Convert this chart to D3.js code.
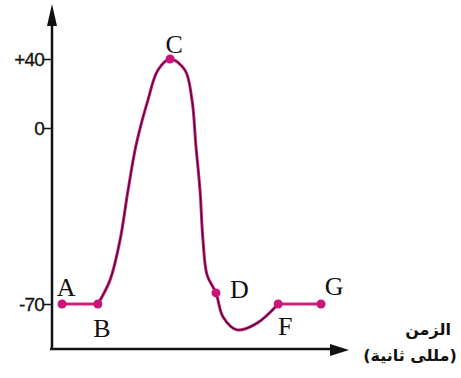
<!DOCTYPE html>
<html><head><meta charset="utf-8">
<script src="https://cdn.jsdelivr.net/npm/d3@7"></script>
<style>html,body{margin:0;padding:0;background:#fff;}svg{display:block;}</style>
</head><body>
<script>
// time (ms) and membrane potential (mV)
const time    = [0.34, 1.55, 1.96, 2.30, 2.57, 2.84, 3.24, 3.58, 3.99, 4.49, 4.73, 4.86, 5.00, 5.10, 5.24, 5.54, 5.78, 6.25, 6.93, 7.64, 9.09];
const voltage = [-70, -70, -60.5, -44.5, -24.7, -6.8, 16.2, 33.6, 40, 33.6, 16.2, -6.8, -24.7, -44.5, -58.5, -65.6, -75.2, -80.3, -77.6, -70, -70];
const pointLabels = ["A", "B", "C", "D", "F", "G"];
const pointIndex  = [0, 1, 8, 15, 19, 20];
const tickValues  = [-70, 0, 40];
const tickLabels  = ["-70", "0", "+40"];
const xTitle = ["الزمن", "(مللى ثانية)"];

const W = 461, H = 378;
const svg = d3.select("body").append("svg").attr("width", W).attr("height", H);

const x = d3.scaleLinear().domain([0, 10]).range([52, 348]);
const y = d3.scaleLinear().domain([-70, 0, 40]).range([304, 128, 59]);

const data = time.map((t, i) => ({t, v: voltage[i]}));

// axes
const yAx = svg.append("g").attr("transform", "translate(52,0)")
  .call(d3.axisLeft(y).tickValues(tickValues).tickSize(8).tickSizeOuter(0)
        .tickFormat((d, i) => tickLabels[i]));
yAx.select(".domain").remove();
yAx.selectAll(".tick line").attr("stroke", "#111").attr("stroke-width", 1.5);
yAx.selectAll(".tick text").attr("font-family", "Liberation Sans, Arial, sans-serif")
  .attr("font-size", 19).attr("fill", "#111").attr("x", -8).attr("dy", "0.35em")
  .attr("letter-spacing", "-0.8").attr("stroke", "#111").attr("stroke-width", 0.3);

svg.append("line").attr("x1", 52).attr("x2", 52).attr("y1", 349).attr("y2", 20)
  .attr("stroke", "#111").attr("stroke-width", 2.5);
svg.append("path").attr("d", "M52,4 L47,26 L57,26 Z").attr("fill", "#111");

const xAx = svg.append("g").attr("transform", "translate(0,349)")
  .call(d3.axisBottom(x).tickValues([]).tickSizeOuter(0));
xAx.select(".domain").attr("stroke", "#111").attr("stroke-width", 2.5)
  .attr("d", `M${x(0) - 2},0H${x(10) - 15}`);
svg.append("path").attr("d", "M349,350 L330,344 L330,356 Z").attr("fill", "#111");

// curve: flat segments straight, the spike smooth
const straight = d3.line().x(d => x(d.t)).y(d => y(d.v));
const smooth = d3.line().x(d => x(d.t)).y(d => y(d.v)).curve(d3.curveCatmullRom.alpha(0.5));
const spike = data.slice(1, 20);
svg.append("path").datum(data.slice(0, 2)).attr("d", straight)
  .attr("fill", "none").attr("stroke", "#d0207f").attr("stroke-width", 3);
svg.append("path").datum(data.slice(19, 21)).attr("d", straight)
  .attr("fill", "none").attr("stroke", "#d0207f").attr("stroke-width", 3);
svg.append("path").datum(spike).attr("d", smooth)
  .attr("fill", "none").attr("stroke", "#d0207f").attr("stroke-width", 3);
svg.append("path").datum(spike).attr("d", smooth)
  .attr("fill", "none").attr("stroke", "#4a0a30").attr("stroke-width", 1.2);

// points
svg.selectAll("circle.pt").data(pointIndex).enter().append("circle")
  .attr("class", "pt").attr("cx", i => x(time[i])).attr("cy", i => y(voltage[i]))
  .attr("r", 4.5).attr("fill", "#cc1478");

// point labels
const labelOffsets = [[4, -8], [4, 33], [4, -6], [14, 5], [7, 31], [13, -9]];
svg.selectAll("text.lab").data(pointIndex).enter().append("text")
  .attr("class", "lab")
  .attr("x", (d, k) => x(time[d]) + labelOffsets[k][0])
  .attr("y", (d, k) => y(voltage[d]) + labelOffsets[k][1])
  .attr("text-anchor", (d, k) => (k === 3 ? "start" : "middle"))
  .attr("font-family", "Liberation Serif, Times New Roman, serif")
  .attr("font-size", 26).attr("fill", "#111")
  .text((d, k) => pointLabels[k]);

// x title
svg.append("text").attr("x", 428).attr("y", 335).attr("text-anchor", "middle")
  .attr("direction", "rtl").attr("font-family", "DejaVu Sans, sans-serif")
  .attr("font-weight", "bold").attr("font-size", 16).attr("fill", "#111").text(xTitle[0]);
svg.append("text").attr("x", 410).attr("y", 361).attr("text-anchor", "middle")
  .attr("direction", "rtl").attr("font-family", "DejaVu Sans, sans-serif")
  .attr("font-weight", "bold").attr("font-size", 16).attr("fill", "#111").text(xTitle[1]);
</script>
</body></html>
